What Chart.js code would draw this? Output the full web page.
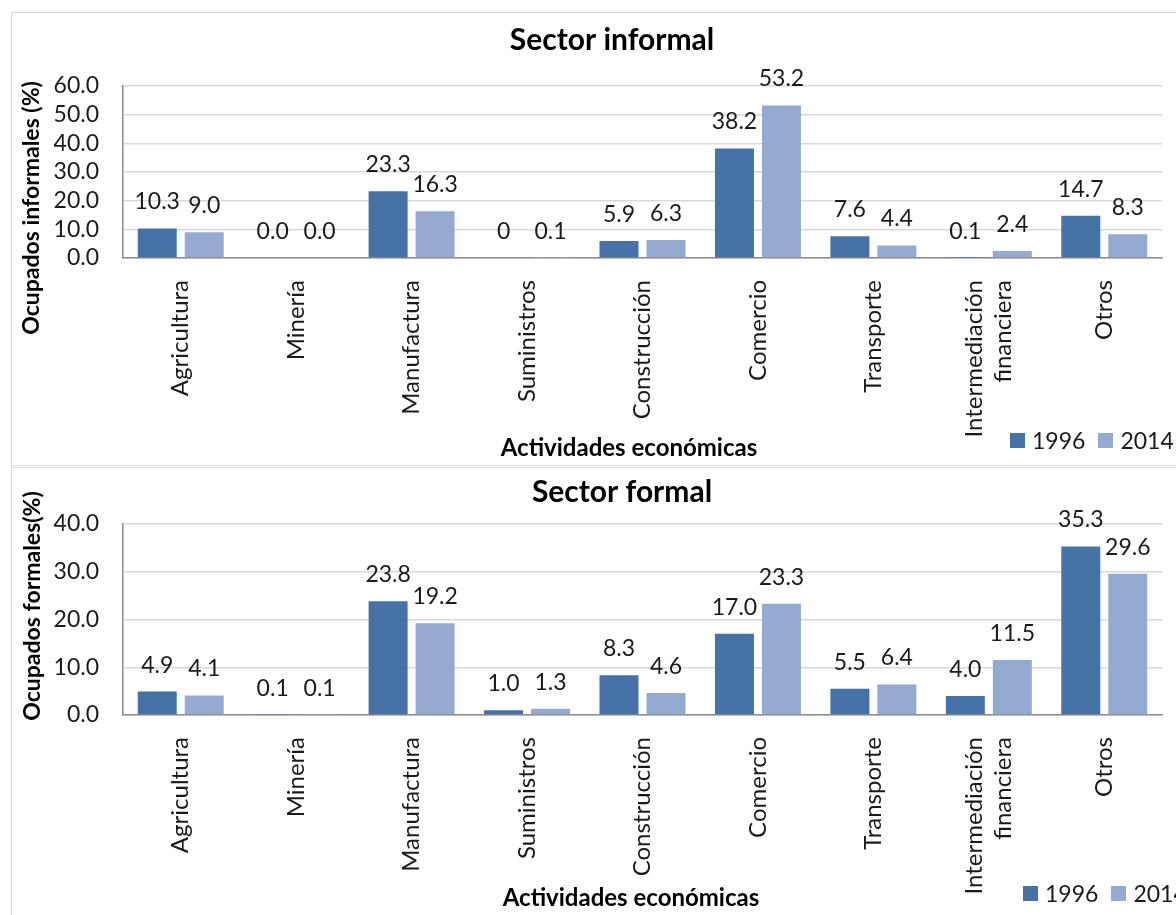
<!DOCTYPE html>
<html>
<head>
<meta charset="utf-8">
<script src="https://cdn.jsdelivr.net/npm/chart.js@4.4.1/dist/chart.umd.min.js"></script>
<style>
  body { margin: 0; background: #fff; width: 1176px; height: 915px; overflow: hidden; position: relative; font-family: Lato, sans-serif; }
  .panel { position: absolute; left: 11px; width: 1200px; height: 452px; border: 1px solid #d9d9d9; background: #fff; }
  .legend { position: absolute; display: flex; align-items: center; font-size: 23px; color: #1a1a1a; white-space: nowrap; }
  .legend span.box { display: inline-block; width: 15px; height: 15px; margin-right: 7px; }
  .legend span.txt { margin-right: 13px; }
</style>
</head>
<body>
<div class="panel" style="top:12px"><canvas id="informal" width="1200" height="452"></canvas></div>
<div class="panel" style="top:467px"><canvas id="formal" width="1200" height="452"></canvas></div>
<div class="legend" id="legInformal" style="left:1010px; top:426px"></div>
<div class="legend" id="legFormal" style="left:1023px; top:879px"></div>
<script>
// categorias y series
const categories = ["Agricultura", "Minería", "Manufactura", "Suministros", "Construcción",
    "Comercio", "Transporte", ["Intermediación", "financiera"], "Otros"];
const years = ["1996", "2014"];
const colors = ["#4672a7", "#95aad0"];

const informal1996 = [10.3, 0.0, 23.3, 0, 5.9, 38.2, 7.6, 0.1, 14.7];
const informal2014 = [9.0, 0.0, 16.3, 0.1, 6.3, 53.2, 4.4, 2.4, 8.3];
const informal1996Text = ["10.3", "0.0", "23.3", "0", "5.9", "38.2", "7.6", "0.1", "14.7"];

const formal1996 = [4.9, 0.1, 23.8, 1.0, 8.3, 17.0, 5.5, 4.0, 35.3];
const formal2014 = [4.1, 0.1, 19.2, 1.3, 4.6, 23.3, 6.4, 11.5, 29.6];

const informalTicks = [0, 10, 20, 30, 40, 50, 60];
const formalTicks = [0, 10, 20, 30, 40];

/* etiquetas de datos sobre las barras */
const barLabels = {
    id: "barLabels",
    afterDatasetsDraw(chart) {
        const ctx = chart.ctx;
        ctx.save();
        ctx.font = "23px Lato";
        ctx.fillStyle = "#1a1a1a";
        ctx.textAlign = "center";
        ctx.textBaseline = "alphabetic";
        chart.data.datasets.forEach((ds, i) => {
            chart.getDatasetMeta(i).data.forEach((bar, j) => {
                const txt = ds.labelText ? ds.labelText[j] : ds.data[j].toFixed(1);
                ctx.fillText(txt, bar.x, bar.y - 19);
            });
        });
        ctx.restore();
    }
};

/* centrar las etiquetas de varias lineas sobre su categoria */
const centerMultiline = {
    id: "centerMultiline",
    beforeDraw(chart) {
        const scale = chart.scales.x;
        const lh = 24 * 1.2;
        scale.getLabelItems().forEach(item => {
            if (Array.isArray(item.label)) item.options.translation[0] -= (item.label.length - 1) * lh / 2;
        });
    }
};

/* titulo y titulos de los ejes (posicion fija como en el original) */
const chartTexts = {
    id: "chartTexts",
    afterDraw(chart, args, opts) {
        const ctx = chart.ctx;
        ctx.save();
        ctx.fillStyle = "#000";
        ctx.textAlign = "center";
        ctx.textBaseline = "middle";
        ctx.font = "bold 30px Lato";
        ctx.fillText(opts.title, opts.titlePos[0], opts.titlePos[1]);
        ctx.font = "bold 24px Lato";
        ctx.fillText(opts.xText, opts.xTitle[0], opts.xTitle[1]);
        ctx.translate(opts.yTitle[0], opts.yTitle[1]);
        ctx.rotate(-Math.PI / 2);
        ctx.font = "bold 23px Lato";
        ctx.fillText(opts.yText, 0, 0);
        ctx.restore();
    }
};

function makeChart(id, title, yLabel, d1996, d2014, ticks, lo) {
    const ds1 = { label: years[0], data: d1996, backgroundColor: colors[0] };
    if (lo.labelText) ds1.labelText = lo.labelText;
    return new Chart(document.getElementById(id), {
        type: "bar",
        data: {
            labels: categories,
            datasets: [ds1, { label: years[1], data: d2014, backgroundColor: colors[1] }]
        },
        options: {
            responsive: false,
            animation: false,
            categoryPercentage: 0.814,
            barPercentage: 0.83,
            layout: { padding: { left: 0, right: 50, top: lo.plotTop, bottom: 0 } },
            plugins: {
                legend: { display: false },
                tooltip: { enabled: false },
                title: { display: false },
                chartTexts: {
                    title: title, titlePos: lo.titlePos,
                    xText: "Actividades económicas", xTitle: lo.xTitle,
                    yText: yLabel, yTitle: lo.yTitle
                }
            },
            scales: {
                x: {
                    grid: { display: false, drawTicks: false },
                    border: { color: "#8c8c8c", width: 1.5 },
                    ticks: {
                        autoSkip: false, minRotation: 90, maxRotation: 90, padding: 22,
                        color: "#1a1a1a", font: { family: "Lato", size: 24 }
                    },
                    afterFit(scale) { scale.height = lo.xHeight; }
                },
                y: {
                    min: ticks[0],
                    max: ticks[ticks.length - 1],
                    afterBuildTicks(scale) { scale.ticks = ticks.map(v => ({ value: v })); },
                    grid: { color: "#d9d9d9", lineWidth: 1.5, drawTicks: false },
                    border: { color: "#8c8c8c", width: 1.5 },
                    ticks: {
                        autoSkip: false, padding: 24, color: "#1a1a1a", font: { family: "Lato", size: 23 },
                        callback: v => Number(v).toFixed(1)
                    },
                    afterFit(scale) { scale.width = 111; }
                }
            }
        },
        plugins: [barLabels, centerMultiline, chartTexts]
    });
}

makeChart("informal", "Sector informal", "Ocupados informales (%)", informal1996, informal2014, informalTicks,
    { plotTop: 73, titlePos: [600, 27], xHeight: 207, xTitle: [617, 435], yTitle: [20, 195],
      labelText: informal1996Text });
makeChart("formal", "Sector formal", "Ocupados formales(%)", formal1996, formal2014, formalTicks,
    { plotTop: 56, titlePos: [610, 24], xHeight: 205, xTitle: [619, 430], yTitle: [21, 138] });

/* leyendas */
function makeLegend(id) {
    const el = document.getElementById(id);
    years.forEach((y, i) => {
        el.innerHTML += '<span class="box" style="background:' + colors[i] + '"></span><span class="txt">' + y + '</span>';
    });
}
makeLegend("legInformal");
makeLegend("legFormal");
</script>
</body>
</html>
